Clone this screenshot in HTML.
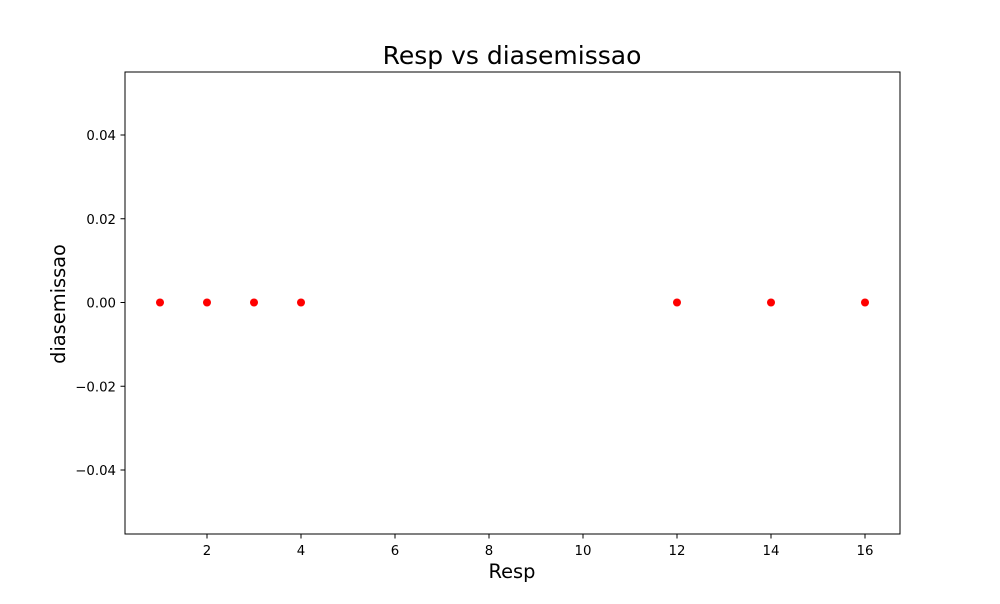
<!DOCTYPE html>
<html><head><meta charset="utf-8"><style>
body{margin:0;background:#fff;font-family:"DejaVu Sans","Liberation Sans",sans-serif}
svg text{font-family:"DejaVu Sans","Liberation Sans",sans-serif}
</style></head><body>
<svg width="1000" height="600" xmlns="http://www.w3.org/2000/svg">
<rect width="1000" height="600" fill="#fff"/>
<text x="512" y="64" font-size="25" text-anchor="middle">Resp vs diasemissao</text>
<rect x="125" y="72" width="775" height="462" fill="none" stroke="#000" stroke-width="1"/>
<g id="xt"></g>
<g id="yt"></g>
<g id="pts"></g>
<text x="512" y="578" font-size="19.4" text-anchor="middle">Resp</text>
<text x="65" y="304" font-size="19.4" text-anchor="middle" transform="rotate(-90 65 304)">diasemissao</text>
</svg>
<script>
const xVals=[1,2,3,4,12,14,16];
const yVals=[0,0,0,0,0,0,0];
const xTicks=[2,4,6,8,10,12,14,16];
const yTicks=[-0.04,-0.02,0,0.02,0.04];
const yTickLabels=["−0.04","−0.02","0.00","0.02","0.04"];
const NS="http://www.w3.org/2000/svg";
const sx=v=>160+(v-1)*47;
const sy=v=>302.5-v*4187.5;
function mk(t,a,p){const e=document.createElementNS(NS,t);for(const k in a)e.setAttribute(k,a[k]);p.appendChild(e);return e;}
const xt=document.getElementById('xt'),yt=document.getElementById('yt'),pts=document.getElementById('pts');
xTicks.forEach(v=>{const x=sx(v);
const l=mk('line',{x1:x,x2:x,y1:534,y2:538.5,stroke:'#000'},xt);


const t=mk('text',{x:x,y:555,'font-size':13.3,'text-anchor':'middle'},xt);t.textContent=v;

});
yTicks.forEach((v,i)=>{const y=sy(v);
const l=mk('line',{x1:120.5,x2:125,y1:y,y2:y,stroke:'#000'},yt);


const t=mk('text',{x:116,y:y+5,'font-size':13.3,'text-anchor':'end'},yt);t.textContent=yTickLabels[i];

});
xVals.forEach((v,i)=>{const c=mk('circle',{cx:sx(v),cy:sy(yVals[i]),r:4,fill:'#ff0000'},pts);

});
</script>
</body></html>
